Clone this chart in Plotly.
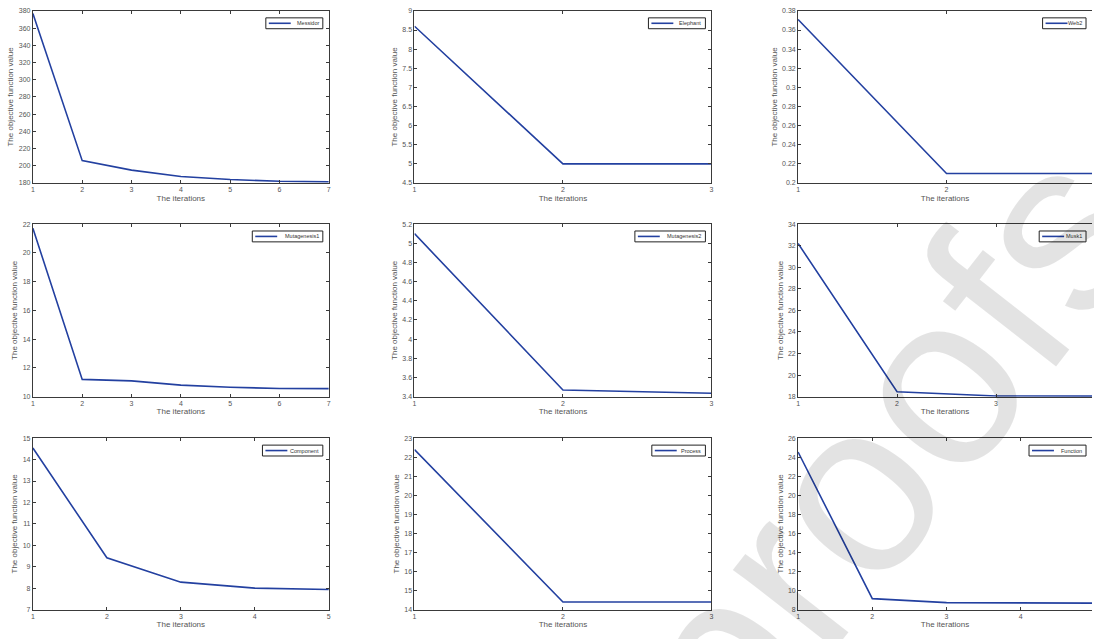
import plotly.graph_objects as go

# ---- data ----
names = ["Messidor", "Elephant", "Web2",
         "Mutagenesis1", "Mutagenesis2", "Musk1",
         "Component", "Process", "Function"]

messidor = [377, 206, 195, 187.5, 184, 182, 181.5]
elephant = [8.6, 5.0, 5.0]
web2 = [0.371, 0.21, 0.21]
mutagenesis1 = [21.7, 11.2, 11.1, 10.8, 10.65, 10.57, 10.56]
mutagenesis2 = [5.1, 3.47, 3.435]
musk1 = [32.2, 18.45, 18.06, 18.05]
component = [14.54, 9.42, 8.28, 8.0, 7.94]
process = [22.4, 14.4, 14.4]
function = [24.55, 9.15, 8.73, 8.70, 8.68]

series = [messidor, elephant, web2, mutagenesis1, mutagenesis2, musk1,
          component, process, function]

y_ranges = [(180, 380, 20), (4.5, 9, 0.5), (0.2, 0.38, 0.02),
            (10, 22, 2), (3.4, 5.2, 0.2), (18, 34, 2),
            (7, 15, 1), (14, 23, 1), (8, 26, 2)]

x_label = "The iterations"
y_label = "The objective function value"
watermark = "proofs"

# ---- layout geometry ----
W, H = 1094, 639
col_px = [(31, 328), (414, 712), (799, 1097)]
row_px = [(7, 181), (222.5, 397), (439, 612.3)]

LINE = "#2340a0"
AX = "#3a3a3a"
TXT = "#555555"
FONT = "Liberation Sans, Arial, sans-serif"


def px(x):
    return x / W


def py(y):
    return 1 - y / H


fig = go.Figure()
shapes = []
annotations = []

for i, (name, ys) in enumerate(zip(names, series)):
    r, c = divmod(i, 3)
    k = "" if i == 0 else str(i + 1)
    xs = list(range(1, len(ys) + 1))
    fig.add_trace(go.Scatter(
        x=xs, y=ys, mode="lines", name=name,
        line=dict(color=LINE, width=1.6),
        xaxis="x" + k, yaxis="y" + k, showlegend=False,
    ))
    x0, x1 = col_px[c]
    t0, t1 = row_px[r]
    xmax = len(ys)
    if x1 > W:
        xmax_vis = 1 + (xmax - 1) * (W - x0) / (x1 - x0)
        xdom = [px(x0), 1.0]
    else:
        xmax_vis = xmax
        xdom = [px(x0), px(x1)]
    ydom = [py(t1), py(t0)]
    ylo, yhi, dy = y_ranges[i]
    fig.layout["xaxis" + k] = dict(
        domain=xdom, range=[1, xmax_vis], anchor="y" + k,
        tickmode="linear", tick0=1, dtick=1,
        ticks="inside", ticklen=3, tickcolor=AX,
        showline=True, linecolor=AX, linewidth=1, mirror="ticks",
        showgrid=False, zeroline=False,
        tickfont=dict(size=7, color=TXT, family=FONT),
        title=dict(text=x_label, font=dict(size=8, color=TXT, family=FONT), standoff=2),
    )
    fig.layout["yaxis" + k] = dict(
        domain=ydom, range=[ylo, yhi], anchor="x" + k,
        tickmode="linear", tick0=ylo, dtick=dy,
        ticks="inside", ticklen=3, tickcolor=AX,
        showline=True, linecolor=AX, linewidth=1,
        mirror=("ticks" if x1 <= W else False),
        showgrid=False, zeroline=False,
        tickfont=dict(size=7, color=TXT, family=FONT),
        title=dict(text=y_label, font=dict(size=8, color=TXT, family=FONT), standoff=3),
    )

    # MATLAB-style legend box (drawn in paper coordinates)
    bx1 = x1 - 9 if x1 > W else x1 - 6
    by0 = t0 + 7
    by1 = by0 + 11
    bw = 30 + 3.4 * len(name)
    bx0 = bx1 - bw
    shapes.append(dict(type="rect", xref="paper", yref="paper",
                       x0=px(bx0), x1=px(bx1), y0=py(by1), y1=py(by0),
                       line=dict(color="#222222", width=1), fillcolor="white",
                       layer="above"))
    ym = (by0 + by1) / 2
    shapes.append(dict(type="line", xref="paper", yref="paper",
                       x0=px(bx0 + 3), x1=px(bx0 + 25), y0=py(ym), y1=py(ym),
                       line=dict(color=LINE, width=1.6), layer="above"))
    annotations.append(dict(text=name, xref="paper", yref="paper",
                            x=px(bx1 - 2), y=py(ym), xanchor="right", yanchor="middle",
                            showarrow=False,
                            font=dict(size=5.5, color="#333333", family=FONT)))

annotations.append(dict(
    text=watermark, x=px(885), y=py(450), xref="paper", yref="paper",
    xanchor="center", yanchor="middle",
    showarrow=False, textangle=-52,
    font=dict(size=245, color="rgba(0,0,0,0.11)", family=FONT),
))

fig.update_layout(
    width=W, height=H,
    margin=dict(l=0, r=0, t=0, b=0),
    paper_bgcolor="white", plot_bgcolor="white",
    shapes=shapes, annotations=annotations,
    showlegend=False,
)

fig.write_html("out.html")
